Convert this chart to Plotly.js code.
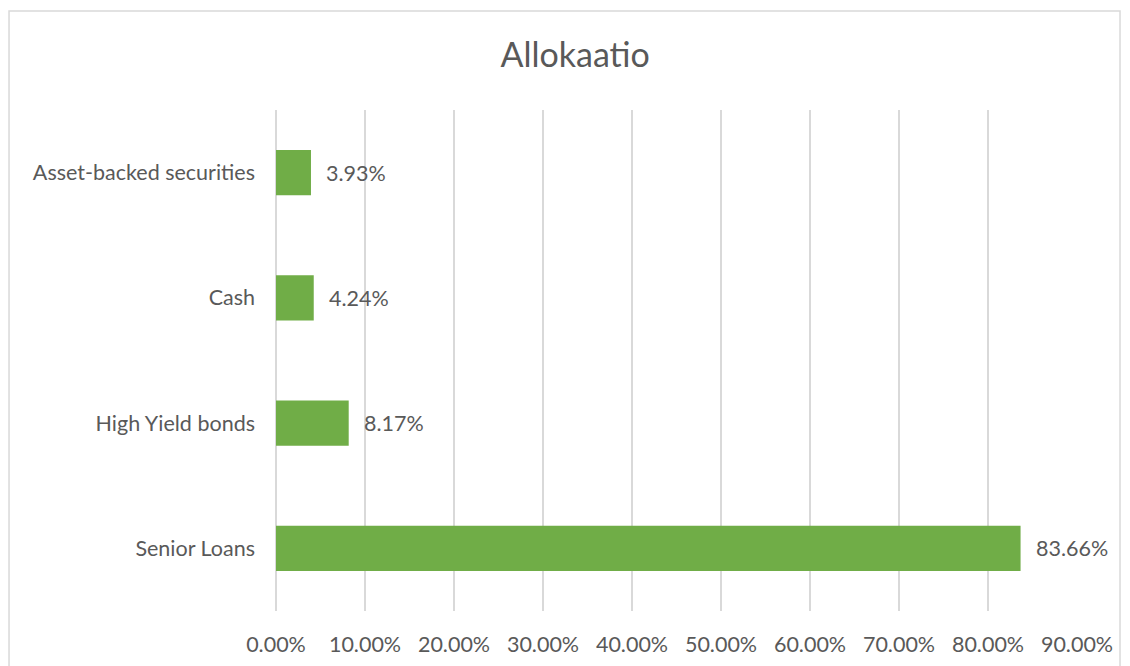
<!DOCTYPE html>
<html>
<head>
<meta charset="utf-8">
<script src="https://cdn.plot.ly/plotly-3.0.1.min.js"></script>
<style>html,body{margin:0;padding:0;background:#fff;}#chart{width:1130px;height:666px;}</style>
</head>
<body>
<div id="chart"></div>
<script>
const categories = ["Senior Loans", "High Yield bonds", "Cash", "Asset-backed securities"];
const values = [83.66, 8.17, 4.24, 3.93];
const tickValues = [0, 10, 20, 30, 40, 50, 60, 70, 80, 90];
const tickLabels = tickValues.map(v => v.toFixed(2) + "%");
const valueLabels = values.map(v => v.toFixed(2) + "%");

const fontFam = "Lato, 'Open Sans', sans-serif";
const textColor = "#595959";
const fs = 21.5;

const trace = {
  type: "bar",
  orientation: "h",
  y: categories,
  x: values,
  marker: {color: "#70AD47"},
  hoverinfo: "none"
};

const annotations = values.map((v, i) => ({
  x: v, y: categories[i], xref: "x", yref: "y",
  text: valueLabels[i], showarrow: false,
  xanchor: "left", xshift: 13,
  font: {family: fontFam, size: fs, color: textColor}
}));

const layout = {
  width: 1130, height: 666,
  margin: {l: 276, r: 53, t: 110, b: 55},
  paper_bgcolor: "#fff", plot_bgcolor: "#fff",
  title: {text: "Allokaatio", x: 0.509, xref: "container", xanchor: "center", y: 0.917, yref: "container", yanchor: "middle",
          font: {family: fontFam, size: 34, color: textColor}},
  bargap: 0.64,
  showlegend: false,
  xaxis: {
    range: [0, 90], tickvals: tickValues, ticktext: tickLabels,
    showgrid: true, gridcolor: "#D9D9D9", gridwidth: 1.3,
    zeroline: true, zerolinecolor: "#D9D9D9", zerolinewidth: 1.3,
    showline: false, ticks: "", ticklabelstandoff: 18,
    tickfont: {family: fontFam, size: fs, color: textColor}, fixedrange: true
  },
  yaxis: {
    type: "category", categoryorder: "array", categoryarray: categories,
    showgrid: false, zeroline: false, showline: false, ticks: "",
    ticklabelstandoff: 20,
    tickfont: {family: fontFam, size: fs, color: textColor}, fixedrange: true
  },
  annotations: annotations,
  shapes: [{
    type: "rect", xref: "paper", yref: "paper",
    x0: -0.3333, x1: 1.0537, y0: -0.12, y1: 1.1976,
    line: {color: "#D9D9D9", width: 1.5}, fillcolor: "rgba(0,0,0,0)", layer: "below"
  }]
};

Plotly.newPlot("chart", [trace], layout, {displayModeBar: false, staticPlot: true});
</script>
</body>
</html>
